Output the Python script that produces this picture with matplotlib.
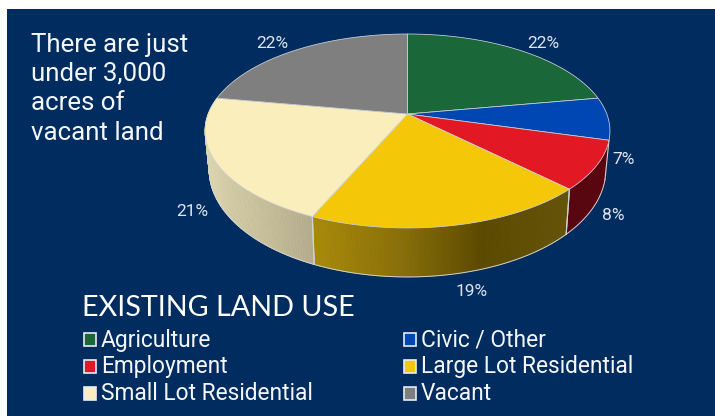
import numpy as np
import matplotlib
matplotlib.use("Agg")
import matplotlib.pyplot as plt
from matplotlib.colors import to_rgb
from matplotlib.patches import Rectangle

categories = ["Agriculture", "Civic / Other", "Employment",
              "Large Lot Residential", "Small Lot Residential", "Vacant"]
shares = [22, 7, 8, 19, 21, 22]
colors = ["#1a673a", "#0047b3", "#e21825", "#f4c808", "#f9eebc", "#7f7f7f"]

navy = "#012c5f"
edge = "#cfd3d6"

# tilted disc, pixel units
cx, cy = 407.5, 114
rx, ry = 199.3, 94
persp = 0.175
depth_back, depth_front = 36, 49
shrink = 0.98


def top_xy(a):
    u, v = np.sin(a), -np.cos(a)
    w = 1 - persp * v
    return cx + rx * u / w, cy + ry * v / w


def bottom_xy(a):
    x, y = top_xy(a)
    v = -np.cos(a)
    return cx + shrink * (x - cx), y + depth_back + (depth_front - depth_back) * v


def arc(a0, a1):
    return np.linspace(a0, a1, max(int((a1 - a0) * 80), 2))


# side shading: (x pixel, colour) stops
side_stops = {
    "Employment": [(560, "#5a0610"), (610, "#5a0610")],
    "Large Lot Residential": [(312, "#a98b0a"), (400, "#8a700a"), (482, "#5c4a00"), (566, "#665408")],
    "Small Lot Residential": [(207, "#dbd4ad"), (260, "#c9c19b"), (312, "#b5ad8c")],
}

fig = plt.figure(figsize=(7.15, 4.16), dpi=100, facecolor="white")
ax = fig.add_axes([0, 0, 1, 1])
ax.set_xlim(0, 715)
ax.set_ylim(416, 0)
ax.axis("off")
ax.add_patch(Rectangle((7, 9), 708, 407, facecolor=navy, edgecolor="none", zorder=0))

bounds = np.cumsum([0] + shares) / sum(shares) * 2 * np.pi

# sides first
for i, name in enumerate(categories):
    if name not in side_stops:
        continue
    stops = side_stops[name]
    xs = [s[0] for s in stops]
    rgb = np.array([to_rgb(s[1]) for s in stops])
    t = arc(bounds[i], bounds[i + 1])
    for a0, a1 in zip(t[:-1], t[1:]):
        x0, y0 = top_xy(a0)
        x1, y1 = top_xy(a1)
        x2, y2 = bottom_xy(a1)
        x3, y3 = bottom_xy(a0)
        c = [np.interp((x0 + x1) / 2, xs, rgb[:, k]) for k in range(3)]
        ax.fill([x0, x1, x2, x3], [y0, y1, y2, y3], color=c, lw=0.6, zorder=1)
    bx, by = bottom_xy(t)
    ax.plot(bx, by, color=edge, lw=0.7, zorder=2)
    for a in (bounds[i], bounds[i + 1]):
        if np.pi * 0.55 < a < np.pi * 1.3:
            p, q = top_xy(a), bottom_xy(a)
            ax.plot([p[0], q[0]], [p[1], q[1]], color=edge, lw=0.8, zorder=2)

# top of the pie
for i, name in enumerate(categories):
    t = arc(bounds[i], bounds[i + 1])
    x, y = top_xy(t)
    ax.fill(np.r_[cx, x], np.r_[cy, y], facecolor=colors[i], edgecolor=edge, lw=0.55,
            joinstyle="round", zorder=3)

# percent labels
label_xy = [(543, 44), (624, 160), (613, 216), (472, 291), (192, 212), (272, 43)]
for val, (x, y) in zip(shares, label_xy):
    ax.text(x, y, f"{val}%", color="#dfe5ee", fontsize=12.5, family="Roboto",
            ha="center", va="center", zorder=4)

# note
note = ["There are just", "under 3,000", "acres of", "vacant land"]
for line, y in zip(note, [52, 81, 110, 140]):
    ax.text(31, y, line, color="#f4f6f9", fontsize=18.6, family="Roboto",
            ha="left", va="baseline", zorder=4)

# legend
ax.text(82, 316, "EXISTING LAND USE", color="white", fontsize=20.7, family="Lato",
        ha="left", va="baseline", zorder=4)
leg_x = [84, 404]
leg_y = [340, 367, 394]
for i, name in enumerate(categories):
    x = leg_x[i % 2]
    y = leg_y[i // 2]
    ax.add_patch(Rectangle((x, y - 7), 12, 13, facecolor=colors[i], edgecolor="#e8ecf2",
                           lw=1.2, zorder=4))
    ax.text(x + 17, y, name, color="#f4f6f9", fontsize=16.4, family="Roboto",
            ha="left", va="center", zorder=4)

fig.savefig("out.png", dpi=100)
